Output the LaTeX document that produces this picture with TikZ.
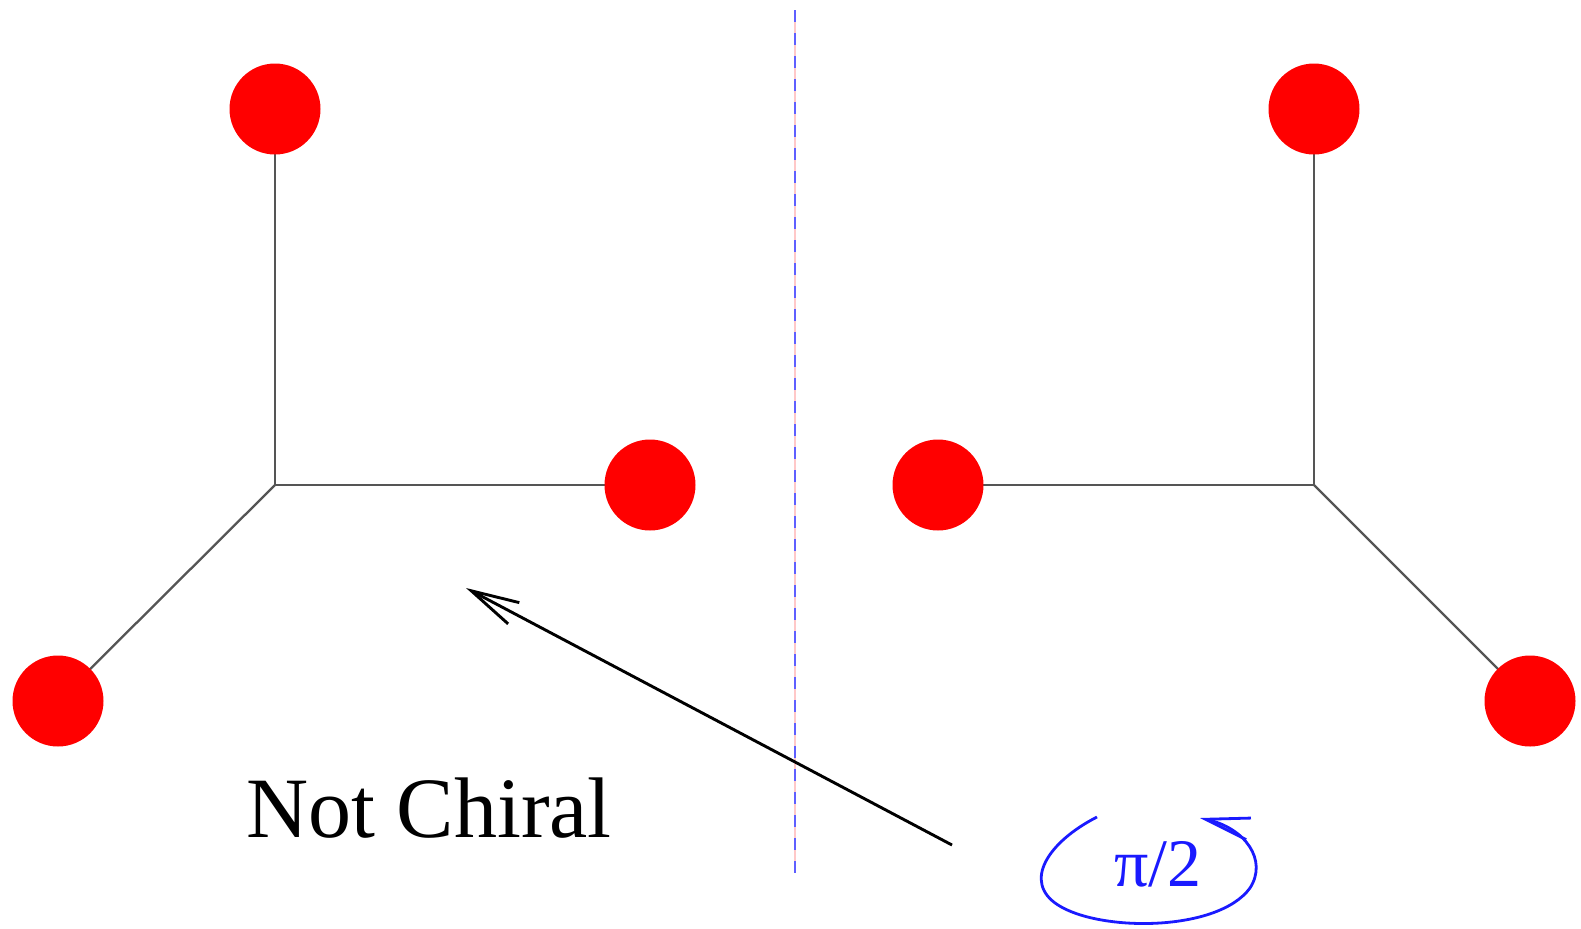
\documentclass[tikz,border=0pt]{standalone}
\usepackage{fontspec}
\setmainfont{Liberation Serif}
\usetikzlibrary{arrows.meta}
\definecolor{ballred}{HTML}{FF0000}
\definecolor{bondgray}{HTML}{555555}
\definecolor{mirrorpink}{HTML}{FFC8C8}
\definecolor{rotblue}{HTML}{1A1AFF}
\tikzset{
  atom/.style      = {circle, fill=ballred, minimum size=45.5pt, inner sep=0pt},
  hub/.style       = {inner sep=0pt, minimum size=0pt},
  bond/.style      = {draw=bondgray, line width=1.15pt},
  mirrorbase/.style= {draw=mirrorpink, line width=1.2pt},
  mirrordash/.style= {draw=rotblue!70, line width=1.2pt, dash pattern=on 6pt off 5.5pt},
  maparrow/.style  = {draw=black, line width=1.45pt,
                      -{Straight Barb[length=24pt, width=12pt, line width=1.45pt]}},
  rotarrow/.style  = {draw=rotblue, line width=1.4pt,
                      -{Straight Barb[length=22pt, width=11pt, line width=1.4pt]}},
  caption/.style   = {font=\fontsize{43}{49}\selectfont, inner sep=0pt},
  anglelab/.style  = {font=\fontsize{34}{39}\selectfont, text=rotblue, inner sep=0pt},
}
\begin{document}
\begin{tikzpicture}[x=0.5pt, y=-0.5pt]
  \useasboundingbox (0,0) rectangle (1581,928);
  % left molecule
  \node[hub] (lc) at (275,485) {};
  \draw[bond] (lc.center) -- (275,109) coordinate (ltop);
  \draw[bond] (lc.center) -- (650,485) coordinate (lright);
  \draw[bond] (lc.center) -- (58,701) coordinate (lleft);
  \node[atom] (lt) at (ltop) {};
  \node[atom] (lr) at (lright) {};
  \node[atom] (ll) at (lleft) {};
  % right molecule (mirror image)
  \node[hub] (rc) at (1314,485) {};
  \draw[bond] (rc.center) -- (1314,109) coordinate (rtop);
  \draw[bond] (rc.center) -- (938,485) coordinate (rleft);
  \draw[bond] (rc.center) -- (1530,701) coordinate (rright);
  \node[atom] (rt) at (rtop) {};
  \node[atom] (rl) at (rleft) {};
  \node[atom] (rr) at (rright) {};
  % mirror plane
  \coordinate (mtop) at (795,10);
  \coordinate (mbot) at (795,873);
  \draw[mirrorbase] (mtop) -- (mbot);
  \draw[mirrordash] (mtop) -- (mbot);
  % labels and arrows
  \node[caption] (notchiral) at (429,808) {Not Chiral};
  \coordinate (tail) at (952,845);
  \coordinate (head) at (466,588);
  \draw[maparrow] (tail) -- (head);
  \node[anglelab] (angle) at (1158,864) {π/2};
  \coordinate (rotstart) at (1097,817);
  \coordinate (rotend) at (1200,818);
  \draw[rotarrow] (rotstart) .. controls (1048,842) and (1022,882) .. (1058,905)
    .. controls (1100,932) and (1218,932) .. (1250,888)
    .. controls (1268,860) and (1245,828) .. (rotend);
\end{tikzpicture}
\end{document}
